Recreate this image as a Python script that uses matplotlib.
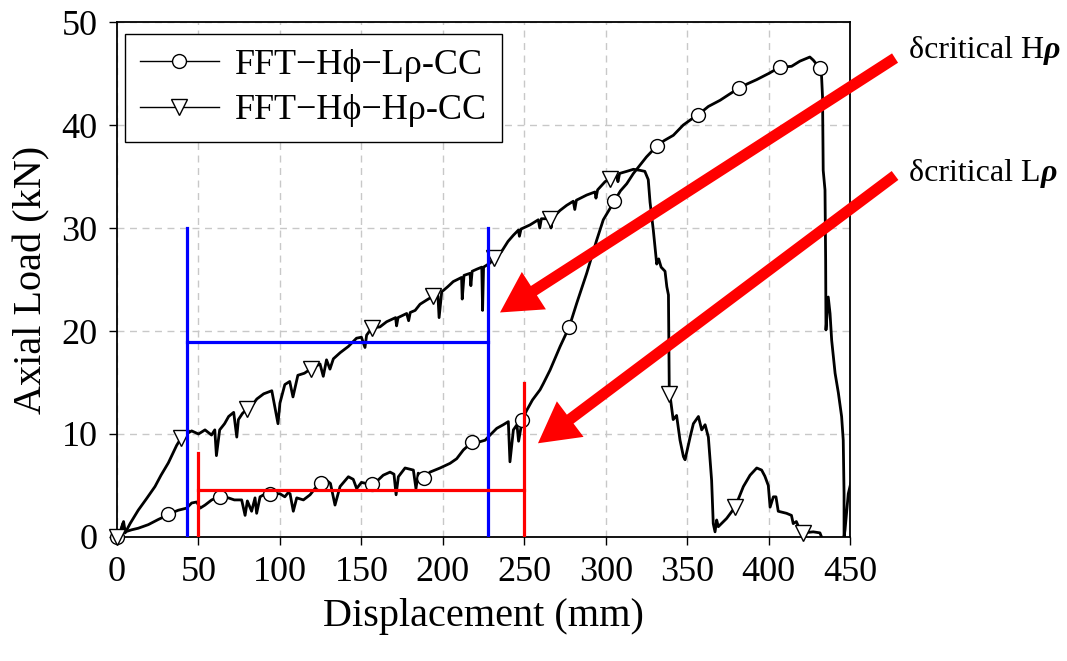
import matplotlib
matplotlib.use('Agg')
import matplotlib.pyplot as plt
from matplotlib.lines import Line2D

plt.rcParams['font.family'] = ['Liberation Serif', 'DejaVu Serif']

# FFT-Hphi-Hrho-CC (triangles)
h_x = [0, 2, 3.5, 5, 8, 13, 18, 23.3, 27, 31.5, 36.6, 39.7, 42, 43.6, 45.8, 50, 54, 58, 60, 61,
       63, 66, 68.5, 71.6, 73.5, 74.5, 77, 79.7, 83, 85.8, 90, 95, 98.8, 100, 103, 106, 108, 111,
       115, 118.8, 121, 124.6, 126.6, 128.6, 130.7, 132.8, 137, 142, 147, 150, 152.2, 153.2,
       156.5, 161.4, 165.5, 171, 171.6, 172.5, 177.8, 179, 180, 183, 186, 190, 194.2, 197,
       197.7, 199.3, 203, 206.4, 211.5, 211.9, 213, 216.7, 217.2, 218, 220.8, 223.9, 224.4,
       225, 229, 231.3, 236, 240, 243.3, 246.4, 247, 248, 253.5, 258.6, 259.5, 260.5, 266,
       266.4, 267.5, 271.9, 276, 280.1, 281, 282, 288.3, 293.4, 294, 295, 299.6, 302.6, 306.7,
       307.5, 308.5, 312.9, 317, 321, 324, 326.1, 327.2, 329.2, 331.3, 332.5, 334, 336.4,
       337.5, 338.5, 339, 340.4, 341.4, 343.5, 345.6, 347.7, 348.7, 351.8, 353.8, 356.9,
       358.9, 361, 363, 365, 366, 367.1, 368.1, 369.1, 374.2, 379.4, 384.5, 388.6, 392.7,
       395.7, 397.7, 399.8, 400.9, 402.9, 404.5, 405.9, 411, 414, 415.1, 417, 419.2, 421,
       427.4, 431.5, 432.5]
h_y = [0, 0.5, 1.3, 0.4, 1.3, 2.6, 3.7, 4.9, 6.0, 7.2, 8.9, 9.7, 9.8, 10.1, 10.3, 10.0, 10.4,
       9.9, 10.4, 7.9, 10.4, 11.0, 11.7, 12.1, 9.7, 11.4, 12.0, 12.4, 12.8, 13.4, 13.9, 14.2,
       11.0, 13.0, 14.8, 15.1, 13.6, 15.7, 15.9, 16.3, 16.5, 16.8, 15.6, 17.2, 16.3, 17.3,
       17.9, 18.5, 19.3, 19.4, 18.4, 19.6, 20.3, 20.4, 20.9, 21.3, 20.5, 21.3, 21.7, 21.0,
       21.8, 22.0, 22.6, 23.0, 23.4, 23.4, 21.3, 23.8, 24.3, 24.8, 25.2, 23.1, 25.4, 25.6,
       24.4, 25.8, 26.0, 26.2, 22.0, 26.2, 26.6, 27.1, 27.7, 28.7, 29.3, 29.8, 29.2, 29.9,
       30.3, 30.8, 30.0, 30.9, 30.9, 30.0, 31.0, 31.7, 32.2, 32.6, 31.8, 32.7, 33.2, 33.5,
       32.9, 33.7, 34.5, 34.8, 35.1, 34.5, 35.3, 35.5, 35.7, 35.6, 35.5, 34.7, 32.5, 29.8,
       26.5, 27.0, 26.2, 25.8, 24.3, 23.5, 14.3, 12.6, 11.4, 11.8, 9.4, 7.8, 7.5, 9.7, 11.0,
       11.7, 10.4, 10.9, 9.7, 5.5, 1.3, 0.5, 1.65, 1.0, 1.8, 2.9, 4.9, 6.0, 6.7, 6.5, 5.9,
       5.0, 2.9, 3.9, 3.9, 2.5, 2.3, 2.1, 1.3, 1.5, 0.7, 0.4, 0.5, 0.4, 0.0]
h_mark_x = [0, 39.5, 79.7, 118.8, 156.5, 194.2, 231.3, 266, 302.6, 338.7, 379.4, 421]
h_mark_y = [0, 9.6, 12.4, 16.3, 20.3, 23.4, 27.1, 30.9, 34.8, 13.9, 2.9, 0.35]

# FFT-Hphi-Lrho-CC (circles)
l_x = [0, 2, 4, 5, 9, 13, 19.2, 25.3, 28, 31.4, 37.6, 42.7, 45.8, 48.9, 51, 54, 58.1, 62.9,
       68.3, 72, 76.5, 78.6, 80, 82.6, 84.7, 85.7, 87.8, 90, 94.2, 100, 103, 105, 106.2,
       108.2, 110.3, 114.4, 118.5, 122, 125.4, 128.6, 131, 133.8, 136.9, 142, 145, 147.1,
       150, 153, 156.8, 159.4, 163.4, 167.6, 170, 171.3, 172.7, 176.8, 181.9, 183.5, 184.9,
       188.3, 192.1, 198.3, 204.4, 208.5, 212.6, 217.9, 222.8, 226, 229, 233.1, 237.1,
       240.2, 241.2, 243.3, 245.5, 246.5, 248.8, 251.5, 255, 259.7, 261.7, 265.8, 272,
       277.6, 282.2, 288.3, 294.4, 298.5, 305.2, 309, 312.9, 317, 321, 325, 329.2, 331.4,
       336, 341.5, 347.6, 352, 356.8, 363, 370.2, 376, 382, 387, 392.6, 400, 406.7, 414.1,
       419.2, 425.3, 427.4, 431.5, 432.5, 433.1, 433.5, 434.6, 435, 435.2, 436.6, 437.7,
       438.7, 440.8, 442.8, 444.8, 445.8, 446.3, 446.3, 446.9, 448.9, 450.4]
l_y = [0, 0.4, 1.5, 0.5, 0.7, 0.85, 1.2, 1.7, 1.9, 2.2, 2.6, 2.8, 3.3, 3.4, 2.8, 3.1, 3.6,
       3.9, 3.8, 3.6, 3.6, 2.1, 3.5, 2.5, 3.8, 2.3, 3.9, 4.1, 4.2, 4.2, 3.9, 4.3, 4.2, 2.5,
       3.8, 3.6, 4.1, 4.8, 5.2, 5.5, 5.2, 3.1, 4.9, 5.85, 5.6, 4.7, 5.3, 5.2, 5.1, 5.4, 6.0,
       6.3, 6.1, 4.1, 5.85, 6.7, 6.5, 4.7, 6.2, 5.7, 6.3, 6.7, 7.15, 7.6, 8.45, 9.2, 9.25,
       9.4, 9.9, 10.55, 10.9, 11.2, 7.3, 10.4, 10.9, 9.3, 11.4, 12.3, 13.3, 14.3, 14.9, 16.2,
       18.5, 20.4, 22.7, 25.6, 28.8, 30.8, 32.6, 33.6, 34.3, 35.3, 36.1, 36.9, 37.6, 38.0,
       38.5, 39.0, 40.0, 40.5, 41.0, 41.8, 42.4, 43.0, 43.6, 44.0, 44.4, 45.0, 45.6, 45.7,
       46.2, 46.6, 46.3, 45.5, 44.7, 42.7, 35.6, 33.7, 26.9, 20.1, 23.3, 21.7, 19.1, 15.9,
       14.0, 11.7, 9.4, 4.2, 0.0, 0.7, 4.2, 5.2]
l_mark_x = [0, 31.4, 62.9, 94.2, 125.4, 156.8, 188.3, 217.9, 248.8, 277.6, 305.2, 331.4,
            356.8, 382, 406.7, 431.5]
l_mark_y = [0, 2.2, 3.9, 4.2, 5.2, 5.1, 5.7, 9.2, 11.4, 20.4, 32.6, 38.0, 41.0, 43.6, 45.6,
            45.5]

# critical displacement brackets
blue_x = [43, 228]
blue_top = 30
blue_level = 18.9
red_x = [50, 250]
red_tops = [8.2, 15.0]
red_level = 4.55

# arrows (tail, tip) in data units
arrow_h = ((477.6, 46.5), (235.1, 21.8))
arrow_l = ((477.6, 35.1), (258.4, 9.1))

fig = plt.figure(figsize=(10.67, 6.61), dpi=100)
ax = fig.add_axes([0.1097, 0.1876, 0.6870, 0.7791])

ax.plot(l_x, l_y, color='k', lw=2, zorder=3)
ax.plot(l_mark_x, l_mark_y, ls='none', marker='o', ms=10, mfc='white', mec='k', mew=1,
        zorder=4, clip_on=False)
ax.plot(h_x, h_y, color='k', lw=2, zorder=3)
ax.plot(h_mark_x, h_mark_y, ls='none', marker='v', ms=11, mfc='white', mec='k', mew=1,
        zorder=4, clip_on=False)

for x in blue_x:
    ax.plot([x, x], [0, blue_top], color='#0000ff', lw=2.3, zorder=5)
ax.plot(blue_x, [blue_level, blue_level], color='#0000ff', lw=2.3, zorder=5)
for x, t in zip(red_x, red_tops):
    ax.plot([x, x], [0, t], color='#ff0000', lw=2.3, zorder=5)
ax.plot(red_x, [red_level, red_level], color='#ff0000', lw=2.3, zorder=5)

for tail, tip in (arrow_h, arrow_l):
    ax.annotate('', xy=tip, xytext=tail, annotation_clip=False, zorder=6,
                arrowprops=dict(facecolor='#ff0000', edgecolor='none', width=8,
                                headwidth=32, headlength=29, shrink=0))

for y, label in ((0.924, 'H'), (0.738, 'L')):
    t = fig.text(0.852, y, 'δcritical ' + label, fontsize=23, va='center', ha='left')
    ax.annotate('ρ', xy=(1, 0), xycoords=t, va='bottom', ha='left', fontsize=23,
                fontweight='bold', style='italic', annotation_clip=False)

ax.set_xlim(0, 450)
ax.set_ylim(0, 50)
ax.set_xticks(range(0, 451, 50))
ax.set_yticks(range(0, 51, 10))
ax.set_axisbelow(True)
ax.grid(True, ls=(0, (5, 4)), color='#c8c8c8', lw=1)
ax.tick_params(direction='out', length=6, width=1, labelsize=26, pad=8)
for s in ax.spines.values():
    s.set_linewidth(1.3)
ax.set_xlabel('Displacement (mm)', fontsize=29, labelpad=6)
ax.set_ylabel('Axial Load (kN)', fontsize=29, labelpad=8)

handles = [Line2D([], [], color='k', lw=1, marker='o', ms=10, mfc='white', mec='k'),
           Line2D([], [], color='k', lw=1, marker='v', ms=11, mfc='white', mec='k')]
ax.legend(handles, ['FFT−Hϕ−Lρ-CC', 'FFT−Hϕ−Hρ-CC'], loc='upper left',
          bbox_to_anchor=(0.011, 0.977), borderaxespad=0, fontsize=26, fancybox=False,
          edgecolor='k', framealpha=1, handlelength=2.2, handletextpad=0.45,
          labelspacing=0.35, borderpad=0.4)

fig.savefig('out.png', dpi=100)
